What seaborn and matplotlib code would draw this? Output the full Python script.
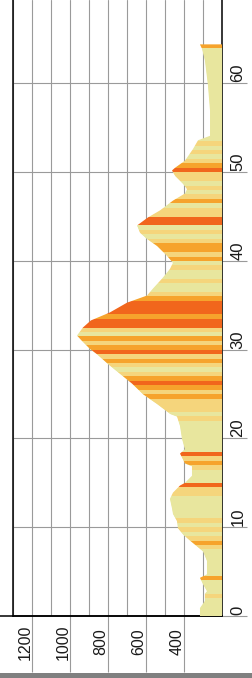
import numpy as np
import matplotlib
matplotlib.use("Agg")
import matplotlib.pyplot as plt
import matplotlib.transforms as mtransforms
from matplotlib.patches import Rectangle
import seaborn as sns

# Profile: distance (km) and elevation (m)
distance = [0.0, 0.2, 0.9, 1.7, 2.5, 2.8, 3.6, 4.3, 4.7, 6.2, 7.3, 8.5, 9.2, 9.9,
            10.7, 11.5, 12.1, 13.2, 13.9, 14.7, 15.0, 15.8, 16.9, 17.2, 18.3, 18.8,
            20.0, 21.4, 22.5, 22.8, 23.9, 25.0, 26.2, 27.3, 28.4, 29.5, 30.1, 31.0,
            31.6, 32.5, 33.3, 34.2, 35.3, 36.1, 36.9, 38.0, 39.1, 39.8, 40.6, 41.7,
            42.5, 43.2, 44.0, 44.9, 45.7, 46.8, 47.6, 48.1, 48.7, 49.6, 50.2, 50.5,
            51.3, 52.6, 53.6, 54.1, 56.9, 59.8, 62.6, 63.9, 64.4]
elevation = [216, 216, 216, 190, 190, 179, 200, 216, 179, 179, 200, 268, 305, 332,
             337, 358, 363, 374, 358, 321, 295, 258, 258, 295, 321, 295,
             311, 321, 337, 374, 442, 516, 574, 637, 700, 758, 795, 837,
             863, 832, 790, 690, 600, 495, 463, 416, 374, 358, 390, 442,
             495, 532, 547, 490, 426, 358, 295, 284, 305, 347, 363, 347,
             295, 253, 226, 163, 163, 174, 190, 205, 216]

# Slope class of each 0.5 km stripe (0 flat ... 3 steep)
slope_class = [0, 0, 0, 0, 1, 0, 0, 0,
               2,
               0, 0, 0, 0, 0, 0,
               1, 2, 1, 0, 1,
               0, 1, 0, 0, 0, 0,
               0, 1, 1, 3,
               0, 0, 0,
               1, 2, 1, 3,
               0, 0, 0, 0, 0, 0, 0,
               1, 0, 1, 1,
               1, 2, 1, 2, 3, 2,
               1, 0, 1, 2,
               1, 3, 2, 1, 2,
               0, 1,
               3, 3, 2, 3, 3, 3, 2,
               1, 0, 0, 1, 0, 0, 1, 0,
               2, 1, 2, 2, 1,
               0, 1, 0,
               3, 3, 1,
               1, 0, 2, 1,
               0, 1, 0, 1, 1,
               3,
               2, 1, 0, 1, 0, 1, 0,
               0, 0, 0, 0, 0, 0, 0, 0, 0, 0, 0, 0, 0, 0, 0, 0, 0, 0, 0, 0,
               2]
stripe_km = 0.5

dist_ticks = [0, 10, 20, 30, 40, 50, 60]
elev_labels = [1200, 1000, 800, 600, 400]
elev_marks = [1100, 900, 700, 500, 300]

palette = ["#e8e69e", "#f5d57c", "#f6a32c", "#f1661c"]

sns.set_theme(style="white")
plt.rcParams['font.family'] = ['Liberation Sans', 'DejaVu Sans']

fig = plt.figure(figsize=(2.53, 6.78), dpi=100)
ax = fig.add_axes([13 / 253, 62 / 678, 209 / 253, 616 / 678])
ax.set_xlim(1200, 100)
ax.set_ylim(0, 69.4)
ax.set_axisbelow(True)

# pale area under the profile
poly = ax.fill_betweenx(distance, 100, elevation, color=palette[0], lw=0, zorder=2)
clip = poly.get_paths()[0]

# coloured stripes, clipped to the profile
starts = np.arange(len(slope_class)) * stripe_km
bars = ax.barh(starts, 1100, height=stripe_km, left=100, align='edge',
               color=[palette[c] for c in slope_class], lw=0, zorder=3)
for b in bars:
    b.set_clip_path(clip, transform=ax.transData)

# grid and ticks
ax.set_xticks(elev_marks)
ax.set_xticks(np.arange(200, 1300, 100), minor=True)
ax.set_yticks(dist_ticks)
ax.grid(True, which='both', color='#9a9a9a', lw=0.8)
ax.tick_params(axis='x', which='major', length=40, width=0.8, color='#9a9a9a',
               direction='out', labelbottom=False, bottom=True)
ax.tick_params(axis='x', which='minor', length=0, labelbottom=False)
ax.yaxis.tick_right()
ax.tick_params(axis='y', length=18, width=0.8, color='#9a9a9a', direction='out',
               labelright=False, right=True)

for side in ['left', 'right', 'bottom']:
    ax.spines[side].set_color('black')
    ax.spines[side].set_linewidth(1.1)
ax.spines['top'].set_visible(False)

# bottom line runs on to the left edge of the picture
ax.plot([1.0, -0.07], [0, 0], color='black', lw=1.1, clip_on=False,
        transform=mtransforms.blended_transform_factory(ax.transAxes, ax.transData))

# elevation labels, rotated, just after their grid line
off = mtransforms.ScaledTranslation(0.045, 0, fig.dpi_scale_trans)
tr_x = mtransforms.blended_transform_factory(ax.transData, ax.transAxes) + off
for v in elev_labels:
    ax.text(v, -0.042, str(v), rotation=90, ha='left', va='center',
            fontsize=11.5, color='#1a1a1a', transform=tr_x)

# distance labels, rotated, above their tick line
off2 = mtransforms.ScaledTranslation(0, 0.01, fig.dpi_scale_trans)
tr_y = mtransforms.blended_transform_factory(ax.transAxes, ax.transData) + off2
for v in dist_ticks:
    ax.text(1.04, v, str(v), rotation=90, ha='left', va='bottom',
            fontsize=12, color='#1a1a1a', transform=tr_y, clip_on=False)

# grey band at the bottom edge
fig.patches.append(Rectangle((0, 0), 1, 5 / 678, transform=fig.transFigure,
                             color='#808080', lw=0))

fig.savefig('out.png', dpi=100)
